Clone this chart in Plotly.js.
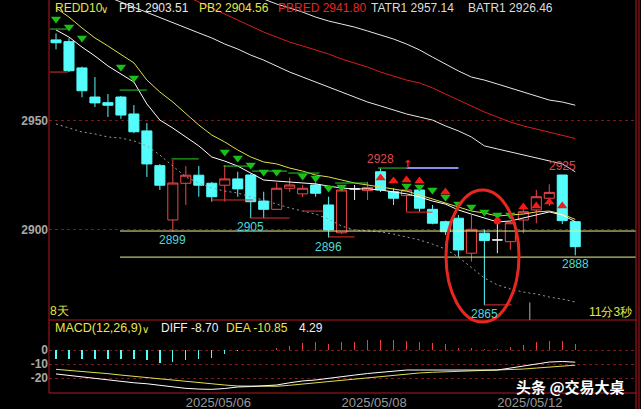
<!DOCTYPE html>
<html><head><meta charset="utf-8">
<script src="https://cdn.plot.ly/plotly-3.0.1.min.js"></script>
<style>html,body{margin:0;padding:0;background:#000;}#chart{width:641px;height:409px;}</style>
</head><body><div id="chart"></div>
<script>
// ---------- DATA ----------
const openP  = [2987.2,2986.4,2974.3,2960.9,2958.3,2960.9,2953.1,2945.3,2929.3,2904.3,2921.2,2924.9,2921.2,2920.3,2923.2,2925.0,2913.0,2909.2,2918.9,2916.3,2920.4,2911.2,2898.4,2918.6,2917.8,2926.5,2917.3,2915.5,2918.1,2909.2,2903.5,2905.1,2889.0,2898.2,2895.1,2894.3,2904.3,2908.9,2914.3,2925.0,2903.5];
const closeP = [2985.9,2973.0,2963.8,2958.2,2957.1,2952.6,2944.9,2930.1,2920.3,2921.3,2924.9,2920.3,2915.0,2923.2,2918.6,2912.7,2909.2,2918.9,2920.4,2918.9,2916.6,2899.7,2918.1,2918.6,2919.3,2918.1,2914.3,2918.1,2909.7,2902.8,2898.9,2890.5,2900.0,2894.8,2895.1,2903.0,2908.1,2915.0,2917.0,2904.0,2892.0];
const highP  = [2990.2,2987.9,2974.9,2970.1,2962.3,2961.4,2957.2,2948.9,2930.1,2931.9,2929.1,2929.1,2921.8,2929.6,2926.5,2925.5,2917.3,2921.5,2923.8,2920.4,2921.5,2915.0,2918.8,2920.4,2921.9,2928.0,2918.9,2918.8,2918.5,2911.2,2904.0,2906.6,2906.6,2900.0,2902.8,2903.5,2911.2,2918.1,2920.7,2925.0,2903.5];
const lowP   = [2982.9,2972.4,2960.8,2956.3,2951.7,2950.9,2944.3,2924.1,2918.1,2899.0,2911.2,2915.0,2912.7,2912.7,2915.0,2905.2,2905.1,2909.0,2917.3,2914.9,2915.0,2896.2,2897.8,2913.5,2913.5,2917.2,2911.2,2908.1,2908.1,2902.3,2897.4,2887.4,2885.1,2865.0,2889.0,2890.5,2898.2,2902.8,2910.7,2902.4,2888.0];

const pb1 = [2991.8,2988.5,2983.9,2979.8,2975.2,2971.5,2967.8,2957.7,2950.3,2946.6,2942.5,2938.4,2933.3,2931.4,2929.1,2925.9,2922.7,2922.2,2921.8,2921.3,2920.9,2919.9,2919.0,2918.6,2918.6,2918.1,2917.2,2916.3,2914.9,2913.0,2911.6,2908.9,2907.0,2905.2,2903.4,2903.8,2905.2,2906.6,2908.0,2906.6,2903.51];
const pb2 = [3001.9,2997.7,2992.7,2988.1,2984.4,2980.7,2976.6,2968.7,2963.2,2958.6,2953.5,2948.0,2943.4,2940.2,2936.5,2933.3,2931.0,2930.1,2928.2,2926.8,2925.0,2924.1,2922.7,2921.3,2920.4,2919.5,2918.6,2917.6,2915.8,2914.0,2912.1,2910.3,2908.4,2907.5,2906.1,2906.6,2907.0,2908.0,2908.4,2907.0,2904.56];
const pbred = [null,null,null,null,null,null,null,null,null,null,3007.4,3004.6,3001.9,2999.1,2996.4,2993.6,2990.8,2988.5,2986.2,2984.4,2982.6,2980.7,2978.4,2976.6,2974.7,2972.4,2970.6,2968.7,2967.4,2965.1,2962.3,2959.5,2956.8,2954.0,2951.7,2949.4,2947.6,2946.2,2944.8,2943.4,2941.80];
const tatr1 = [null,null,null,null,null,null,null,null,null,null,null,null,null,null,null,null,3006.0,3003.7,3001.9,3000.0,2997.7,2995.9,2994.5,2993.1,2991.3,2989.5,2987.6,2985.3,2982.6,2979.3,2976.1,2972.9,2970.1,2968.7,2966.9,2965.1,2963.2,2961.4,2959.5,2958.6,2957.14];
const batr1 = [null,null,null,null,3007.0,3004.6,3002.3,2999.8,2997.3,2995.0,2992.7,2990.4,2988.1,2985.3,2983.0,2980.2,2977.9,2975.2,2972.4,2970.1,2967.8,2965.5,2963.2,2960.9,2958.6,2956.8,2954.9,2953.1,2951.7,2950.3,2947.6,2945.3,2942.5,2938.4,2937.0,2935.6,2934.2,2932.8,2931.4,2930.1,2926.46];
const stopLine = [2948.5,2946.6,2944.8,2943.9,2942.5,2942.0,2940.7,2938.4,2934.2,2929.1,2924.1,2921.3,2919.0,2917.6,2916.7,2914.9,2913.5,2911.6,2909.8,2908.4,2907.0,2904.7,2901.5,2899.7,2899.2,2898.8,2897.8,2896.5,2895.1,2893.2,2890.9,2887.2,2882.2,2877.6,2874.4,2872.5,2871.1,2870.2,2868.8,2867.9,2866.5];

const sellIdx = [0,1,2,5,6,13,14,15,16,17,19,20,21,22,27,28,29,30,31,32,33,34,35];
const sellVal = [2996.8,2993.1,2988.1,2974.7,2969.7,2935.6,2932.8,2929.6,2926.4,2926.4,2924.5,2923.6,2919.0,2919.5,2919.9,2919.5,2918.1,2914.9,2911.6,2910.3,2908.0,2906.6,2906.6];
const buyIdx = [25,26,27,28,30,36,37,38,39];
const buyVal = [2923.6,2922.2,2922.7,2922.2,2917.2,2910.3,2910.7,2912.6,2910.7];
const dotIdx = [34];
const dotVal = [2903.8];

const resStart = [-0.46,4.9,8.9,12.9,15.1,17.9,21.5,24.8];
const resEnd   = [1.1,7.0,11.0,15.2,17.8,20.3,24.0,27.0];
const resLevel = [2992.2,2964.1,2932.4,2929.1,2926.8,2925.9,2921.3,2928.2];
const supStart = [-0.46,12.0,14.9,19.0,21.0,27.0,33.0];
const supEnd   = [0.92,15.2,18.0,20.6,23.0,29.0,35.1];
const supLevel = [2972.4,2913.5,2905.2,2908.4,2896.5,2907.9,2865.2];
const topLineStart = [27.0], topLineEnd = [31.0], topLineLevel = [2928.2];
const hLevels = [2899.2, 2887.2];
const hStart = 4.93;

const macdHist = [-6.4,-6.4,-6.4,-6.4,-6.4,-6.4,-6.4,-7.1,-9.0,-8.3,-7.1,-6.7,-5.5,-3.1,-0.4,-0.2,0.2,1.7,2.9,4.8,5.5,4.3,5.5,6.0,7.1,7.1,7.1,6.7,6.0,4.8,4.0,1.7,1.2,0.7,0.7,1.9,3.8,5.5,6.7,6.2,4.29];
const diffL = [-17.1,-18.2,-19.3,-20.4,-21.4,-22.5,-23.4,-24.1,-25.2,-26.4,-27.4,-27.9,-28.1,-27.5,-26.4,-26.1,-25.7,-25.0,-23.4,-22.1,-21.4,-20.4,-19.3,-17.9,-16.8,-15.9,-15.0,-14.3,-14.3,-14.3,-14.3,-14.3,-14.3,-14.3,-14.3,-12.9,-11.4,-10.0,-8.6,-8.2,-8.70];
const deaL  = [-13.8,-14.5,-15.2,-16.1,-16.9,-17.9,-18.8,-19.6,-20.7,-21.6,-22.6,-23.6,-24.3,-25.0,-25.7,-25.9,-26.1,-25.9,-25.2,-24.3,-23.4,-22.5,-21.4,-20.5,-19.5,-18.6,-17.9,-17.1,-16.4,-15.9,-15.6,-15.2,-15.0,-14.8,-14.5,-14.3,-13.6,-12.9,-12.1,-11.4,-10.85];

const priceTicks = [2900, 2950];
const macdTicks = [0, -10, -20];
const dateIdx = [10, 22, 34];
const dateLabels = ['2025/05/06', '2025/05/08', '2025/05/12'];
const lowLabelIdx = [9, 15, 21, 33, 40];
const highLabelIdx = [25, 39];

// ---------- STYLE ----------
const UP = '#F04848', DN = '#54FCFC', YEL = '#E6E64C', WHITE = '#F0F0F0', RED = '#E02828';
const GRID = '#7E1818', BORDER = '#B81820';
const FONT = 'Liberation Sans, Arial, sans-serif';
const X_RANGE = [-0.54, 44.68];
const P = px => (px - 49) / 587;
const Q = py => (393 - py) / 393;
const last = a => a[a.length - 1];

const idx = openP.map((_, i) => i);
const doji = idx.filter(i => openP[i] === closeP[i]);
const norm = idx.filter(i => openP[i] !== closeP[i]);
const pick = (a, ids) => ids.map(i => a[i]);

function segs(s, e, lv) {
  const x = [], y = [];
  s.forEach((v, k) => { x.push(v, e[k], null); y.push(lv[k], lv[k], null); });
  return {x, y};
}

const traces = [];
traces.push({
  type: 'candlestick', x: norm, open: pick(openP, norm), high: pick(highP, norm), low: pick(lowP, norm), close: pick(closeP, norm),
  increasing: {line: {color: UP, width: 1}, fillcolor: '#000000'},
  decreasing: {line: {color: DN, width: 1}, fillcolor: DN},
  whiskerwidth: 0, hoverinfo: 'skip', xaxis: 'x', yaxis: 'y'
});
traces.push({
  type: 'candlestick', x: doji, open: pick(openP, doji), high: pick(highP, doji), low: pick(lowP, doji), close: pick(closeP, doji),
  increasing: {line: {color: WHITE, width: 1}, fillcolor: WHITE},
  decreasing: {line: {color: WHITE, width: 1}, fillcolor: WHITE},
  whiskerwidth: 0, hoverinfo: 'skip', xaxis: 'x', yaxis: 'y'
});
const line = (y, color, extra) => Object.assign({type: 'scatter', mode: 'lines', x: idx, y: y, line: {color: color, width: 1}, hoverinfo: 'skip', xaxis: 'x', yaxis: 'y'}, extra || {});
traces.push(line(stopLine, '#A0A0A0', {line: {color: '#9A9A9A', width: 1, dash: '2px,3px'}}));
traces.push(line(tatr1, '#E8E8E8'));
traces.push(line(batr1, '#E8E8E8'));
traces.push(line(pbred, '#D81E1E'));
traces.push(line(pb2, '#E0E050'));
traces.push(line(pb1, '#FFFFFF'));

const hs = segs(hLevels.map(() => hStart), hLevels.map(() => X_RANGE[1]), hLevels);
traces.push({type: 'scatter', mode: 'lines', x: hs.x, y: hs.y, line: {color: '#F0F090', width: 1}, hoverinfo: 'skip'});
const rs = segs(resStart, resEnd, resLevel);
traces.push({type: 'scatter', mode: 'lines', x: rs.x, y: rs.y, line: {color: '#28D028', width: 1}, hoverinfo: 'skip'});
const ss = segs(supStart, supEnd, supLevel);
traces.push({type: 'scatter', mode: 'lines', x: ss.x, y: ss.y, line: {color: '#E03030', width: 1}, hoverinfo: 'skip'});
const ts = segs(topLineStart, topLineEnd, topLineLevel);
traces.push({type: 'scatter', mode: 'lines', x: ts.x, y: ts.y, line: {color: '#8C8CF0', width: 2}, hoverinfo: 'skip'});

traces.push({type: 'scatter', mode: 'markers', x: sellIdx, y: sellVal, marker: {symbol: 'triangle-down', size: 9, color: '#18C018'}, hoverinfo: 'skip'});
traces.push({type: 'scatter', mode: 'markers', x: buyIdx, y: buyVal, marker: {symbol: 'triangle-up', size: 9, color: '#F01C1C'}, hoverinfo: 'skip'});
traces.push({type: 'scatter', mode: 'markers', x: dotIdx, y: dotVal, marker: {symbol: 'circle', size: 7, color: '#F01C1C'}, hoverinfo: 'skip'});

// MACD
traces.push({type: 'bar', x: idx, y: macdHist, width: 0.1, marker: {color: macdHist.map(v => v >= 0 ? '#F03C3C' : DN), line: {width: 0}}, xaxis: 'x', yaxis: 'y2', hoverinfo: 'skip'});
traces.push({type: 'scatter', mode: 'lines', x: idx, y: deaL, line: {color: '#E0E050', width: 1}, xaxis: 'x', yaxis: 'y2', hoverinfo: 'skip'});
traces.push({type: 'scatter', mode: 'lines', x: idx, y: diffL, line: {color: '#FFFFFF', width: 1}, xaxis: 'x', yaxis: 'y2', hoverinfo: 'skip'});

// ---------- ANNOTATIONS ----------
const ann = [];
const txt = (text, px, py, color, opts) => ann.push(Object.assign({
  text: text, xref: 'paper', yref: 'paper', x: P(px), y: Q(py), xanchor: 'left', yanchor: 'middle',
  showarrow: false, font: {family: FONT, size: 12, color: color}
}, opts || {}));
txt('REDD10', 53, 8, YEL);
txt('∨', 99, 9, YEL, {font: {family: 'DejaVu Sans', size: 10, color: YEL}});
txt('PB1 ' + last(pb1).toFixed(2), 117, 8, '#E8E8E8');
txt('PB2 ' + last(pb2).toFixed(2), 197, 8, YEL);
txt('PBRED ' + last(pbred).toFixed(2), 276, 8, RED);
txt('TATR1 ' + last(tatr1).toFixed(2), 369, 8, '#DCDCDC');
txt('BATR1 ' + last(batr1).toFixed(2), 466, 8, '#DCDCDC');
txt('MACD(12,26,9)', 53, 328, YEL, {font: {family: FONT, size: 12.5, color: YEL}});
txt('∨', 140, 329, YEL, {font: {family: 'DejaVu Sans', size: 10, color: YEL}});
txt('DIFF ' + last(diffL).toFixed(2), 159, 328, '#F0F0F0');
txt('DEA ' + last(deaL).toFixed(2), 224, 328, YEL);
txt(last(macdHist).toFixed(2), 297, 328, '#F0F0F0');
txt('8天', 48, 311, YEL);
txt('11分3秒', 634, 312, YEL, {xanchor: 'right'});
txt('头条 @交易大桌', 570, 386, '#FFFFFF', {xanchor: 'center', font: {family: 'Noto Sans CJK SC', size: 15, color: '#FFFFFF', weight: 700}});

lowLabelIdx.forEach(i => ann.push({text: String(Math.round(lowP[i])), x: i, y: lowP[i], xref: 'x', yref: 'y', xanchor: 'center', yanchor: 'top', showarrow: false, font: {family: FONT, size: 12, color: '#4CD8D8'}}));
highLabelIdx.forEach(i => ann.push({text: String(Math.round(highP[i])), x: i, y: highP[i], xref: 'x', yref: 'y', xanchor: 'center', yanchor: 'bottom', showarrow: false, font: {family: FONT, size: 12, color: '#E04848'}}));
ann.push({text: '↑', x: 27.1, y: highP[25] + 1.7, xref: 'x', yref: 'y', xanchor: 'center', yanchor: 'middle', showarrow: false, font: {family: 'DejaVu Sans', size: 11, color: '#F02020', weight: 700}});

// ---------- SHAPES ----------
const shapes = [
  {type: 'line', xref: 'paper', yref: 'paper', x0: 0, x1: 0, y0: 0, y1: 1, line: {color: BORDER, width: 1}},
  {type: 'line', xref: 'paper', yref: 'paper', x0: 1, x1: 1, y0: Q(409), y1: 1, line: {color: BORDER, width: 1}},
  {type: 'line', xref: 'paper', yref: 'paper', x0: P(639), x1: P(639), y0: Q(409), y1: 1, line: {color: BORDER, width: 1}},
  {type: 'line', xref: 'paper', yref: 'paper', x0: 0, x1: 1, y0: Q(320), y1: Q(320), line: {color: BORDER, width: 1}},
  {type: 'line', xref: 'paper', yref: 'paper', x0: 0, x1: 1, y0: Q(393), y1: Q(393), line: {color: BORDER, width: 1}},
  {type: 'line', xref: 'x', yref: 'y', x0: 36.5, x1: 36.5, y0: 2858.3, y1: 2866.3, line: {color: '#B0B0B0', width: 1}},
  {type: 'circle', xref: 'paper', yref: 'paper', x0: P(446), x1: P(519), y0: Q(322), y1: Q(190), line: {color: '#E8281E', width: 3}}
];

const layout = {
  width: 641, height: 409,
  paper_bgcolor: '#000', plot_bgcolor: '#000',
  margin: {l: 49, r: 5, t: 0, b: 16, pad: 0},
  showlegend: false,
  boxgap: 0.12, boxgroupgap: 0.12, bargap: 0,
  font: {family: FONT, size: 12, color: '#A8A8A8'},
  xaxis: {range: X_RANGE, anchor: 'y2', showgrid: false, zeroline: false, showline: false, ticks: '',
          tickvals: dateIdx, ticktext: dateLabels, ticklabelposition: 'outside right',
          tickfont: {family: FONT, size: 13, color: '#9A9A9A'}, rangeslider: {visible: false}, fixedrange: true},
  yaxis: {domain: [Q(320), 1], range: [2858.24, 3005.57], tickvals: priceTicks, ticktext: priceTicks.map(String),
          showgrid: true, gridcolor: GRID, griddash: '3px,3px', gridwidth: 1, zeroline: false, ticks: '', showline: false,
          tickfont: {family: FONT, size: 12, color: '#A8A8A8', weight: 700}, fixedrange: true},
  yaxis2: {domain: [0, Q(320)], range: [-30.71, 21.43], tickvals: macdTicks, ticktext: macdTicks.map(String),
           showgrid: true, gridcolor: GRID, griddash: '3px,3px', gridwidth: 1, zeroline: false, ticks: '', showline: false,
           tickfont: {family: FONT, size: 12, color: '#A8A8A8', weight: 700}, fixedrange: true},
  annotations: ann,
  shapes: shapes
};

Plotly.newPlot('chart', traces, layout, {displayModeBar: false, staticPlot: true});
</script>
</body></html>
